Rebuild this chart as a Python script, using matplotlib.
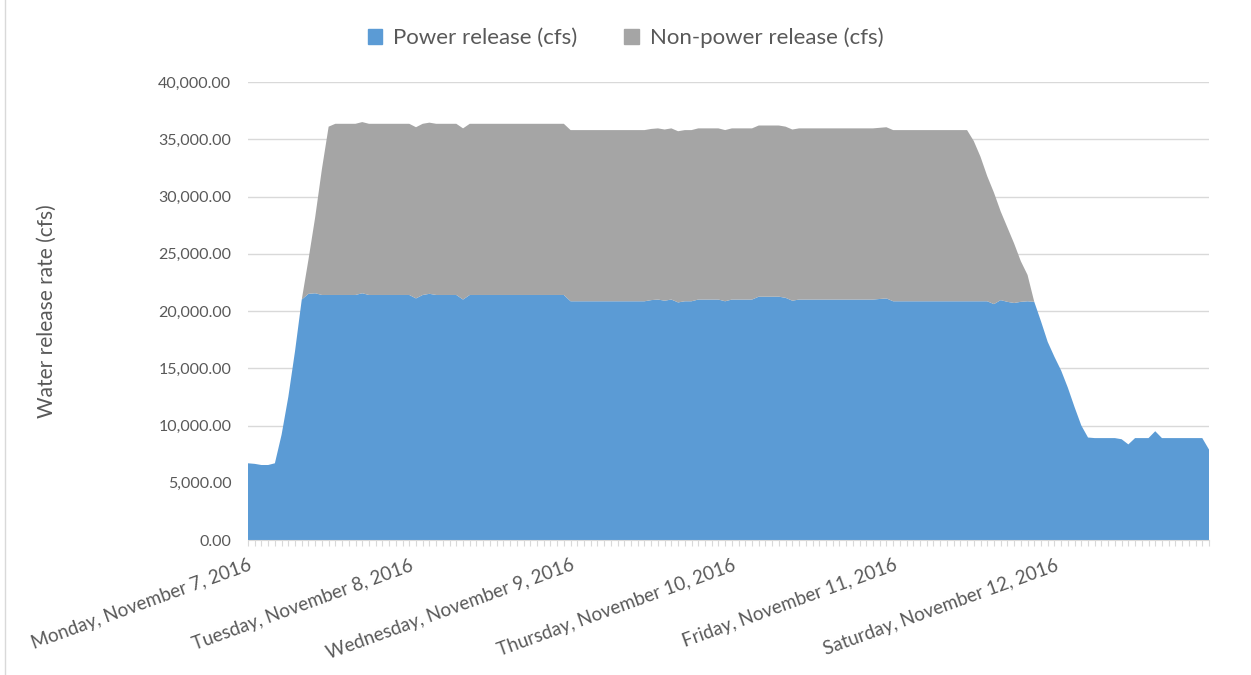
import matplotlib
matplotlib.use("Agg")
import matplotlib.pyplot as plt
from matplotlib.patches import Patch
from matplotlib.ticker import FuncFormatter

plt.rcParams['font.family'] = ['Lato', 'DejaVu Sans']

# hourly readings, Nov 7 00:00 through Nov 12 23:00
power = [
    6700, 6650, 6550, 6550, 6700, 9200, 12500, 16500,
    21000, 21500, 21550, 21400, 21400, 21400, 21400, 21400,
    21400, 21550, 21400, 21400, 21400, 21400, 21400, 21400,
    21400, 21100, 21400, 21500, 21400, 21400, 21400, 21400,
    21000, 21400, 21400, 21400, 21400, 21400, 21400, 21400,
    21400, 21400, 21400, 21400, 21400, 21400, 21400, 21400,
    20850, 20850, 20850, 20850, 20850, 20850, 20850, 20850,
    20850, 20850, 20850, 20850, 20950, 21000, 20900, 21000,
    20750, 20850, 20850, 21000, 21000, 21000, 21000, 20850,
    21000, 21000, 21000, 21000, 21250, 21250, 21250, 21250,
    21150, 20900, 21000, 21000, 21000, 21000, 21000, 21000,
    21000, 21000, 21000, 21000, 21000, 21000, 21050, 21100,
    20850, 20850, 20850, 20850, 20850, 20850, 20850, 20850,
    20850, 20850, 20850, 20850, 20850, 20850, 20850, 20600,
    20950, 20800, 20700, 20800, 20850, 20800, 19100, 17300,
    16000, 14800, 13300, 11600, 10000, 8950, 8900, 8900,
    8900, 8900, 8800, 8350, 8900, 8900, 8900, 9500,
    8900, 8900, 8900, 8900, 8900, 8900, 8900, 7900,
]

non_power = [
    0, 0, 0, 0, 0, 0, 0, 0,
    0, 3000, 6650, 11000, 14700, 14950, 14950, 14950,
    14950, 14950, 14950, 14950, 14950, 14950, 14950, 14950,
    14950, 14950, 14950, 14950, 14950, 14950, 14950, 14950,
    14950, 14950, 14950, 14950, 14950, 14950, 14950, 14950,
    14950, 14950, 14950, 14950, 14950, 14950, 14950, 14950,
    14950, 14950, 14950, 14950, 14950, 14950, 14950, 14950,
    14950, 14950, 14950, 14950, 14950, 14950, 14950, 14950,
    14950, 14950, 14950, 14950, 14950, 14950, 14950, 14950,
    14950, 14950, 14950, 14950, 14950, 14950, 14950, 14950,
    14950, 14950, 14950, 14950, 14950, 14950, 14950, 14950,
    14950, 14950, 14950, 14950, 14950, 14950, 14950, 14950,
    14950, 14950, 14950, 14950, 14950, 14950, 14950, 14950,
    14950, 14950, 14950, 14950, 13990, 12620, 10930, 9740,
    7750, 6500, 5200, 3550, 2300, 0, 0, 0,
    0, 0, 0, 0, 0, 0, 0, 0,
    0, 0, 0, 0, 0, 0, 0, 0,
    0, 0, 0, 0, 0, 0, 0, 0,
]

day_labels = [
    'Monday, November 7, 2016',
    'Tuesday, November 8, 2016',
    'Wednesday, November 9, 2016',
    'Thursday, November 10, 2016',
    'Friday, November 11, 2016',
    'Saturday, November 12, 2016',
]
hours_per_day = 24

blue = '#5B9BD5'
grey = '#A5A5A5'
text_col = '#595959'
line_col = '#D9D9D9'

hours = list(range(len(power)))

fig = plt.figure(figsize=(12.51, 6.75), dpi=100)
ax = fig.add_axes([248 / 1251, 135 / 675, 961 / 1251, 458 / 675])

ax.stackplot(hours, power, non_power, colors=[blue, grey], linewidth=0)

ax.set_xlim(0, len(hours) - 1)
ax.set_ylim(0, 40000)
ax.set_yticks(range(0, 40001, 5000))
ax.yaxis.set_major_formatter(FuncFormatter(lambda v, p: f'{v:,.2f}'))
ax.grid(axis='y', color=line_col, linewidth=1)
ax.set_axisbelow(True)

ax.set_xticks(range(0, len(hours), hours_per_day))
ax.set_xticks(hours, minor=True)
ax.set_xticklabels(day_labels, rotation=20, ha='right', va='top',
                   rotation_mode='anchor')

ax.tick_params(axis='x', which='both', length=4, width=0.8, color=line_col,
               labelsize=13.5, labelcolor=text_col, pad=8)
ax.tick_params(axis='y', length=0, labelsize=11.5, labelcolor=text_col, pad=12)

for side in ['top', 'right', 'left']:
    ax.spines[side].set_visible(False)
ax.spines['bottom'].set_color(line_col)

ax.set_ylabel('Water release rate (cfs)', fontsize=15, color=text_col)
ax.yaxis.set_label_coords(-0.199, 0.5)

handles = [Patch(color=blue, label='Power release (cfs)'),
           Patch(color=grey, label='Non-power release (cfs)')]
fig.legend(handles=handles, loc='center', bbox_to_anchor=(0.5, 1 - 38 / 675),
           ncol=2, frameon=False, fontsize=16, labelcolor=text_col,
           handlelength=0.65, handleheight=0.65, handletextpad=0.5,
           columnspacing=2.1)

# chart frame edge
fig.add_artist(plt.Line2D([5 / 1251, 5 / 1251], [0, 1], color=line_col,
                          linewidth=1, transform=fig.transFigure))

fig.savefig('out.png', dpi=100, facecolor='white')
